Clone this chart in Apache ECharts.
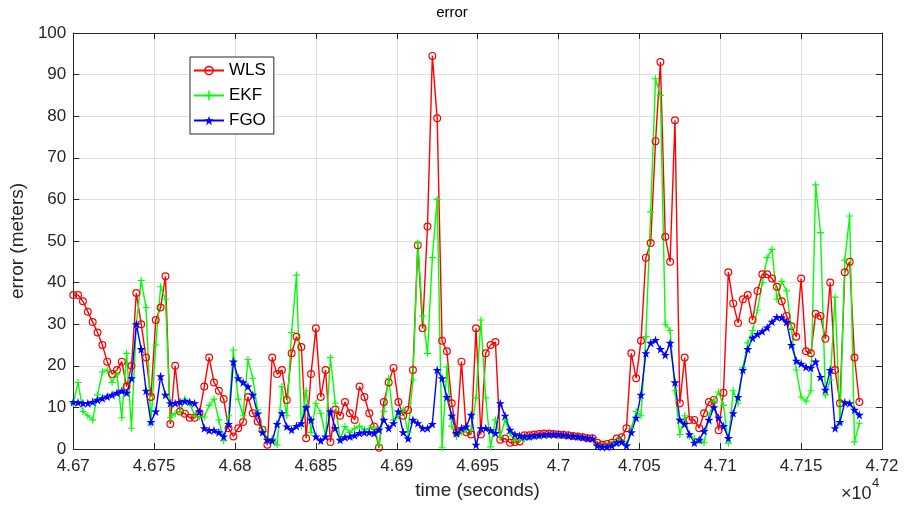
<!DOCTYPE html>
<html><head><meta charset="utf-8">
<script src="https://cdn.jsdelivr.net/npm/echarts@6/dist/echarts.min.js"></script>
<style>html,body{margin:0;padding:0;background:#fff}#c{width:904px;height:509px}</style>
</head><body><div id="c"></div><script>
// time stamps (seconds)
const time = [
46700,46703,46706,46709,46712,46715,46718,46721,46724,46727,
46730,46733,46736,46739,46742,46745,46748,46751,46754,46757,
46760,46763,46766,46769,46772,46775,46778,46781,46784,46787,
46790,46793,46796,46799,46802,46805,46808,46811,46814,46817,
46820,46823,46826,46829,46832,46835,46838,46841,46844,46847,
46850,46853,46856,46859,46862,46865,46868,46871,46874,46877,
46880,46883,46886,46889,46892,46895,46898,46901,46904,46907,
46910,46913,46916,46919,46922,46925,46928,46931,46934,46937,
46940,46943,46946,46949,46952,46955,46958,46961,46964,46967,
46970,46973,46976,46979,46982,46985,46988,46991,46994,46997,
47000,47003,47006,47009,47012,47015,47018,47021,47024,47027,
47030,47033,47036,47039,47042,47045,47048,47051,47054,47057,
47060,47063,47066,47069,47072,47075,47078,47081,47084,47087,
47090,47093,47096,47099,47102,47105,47108,47111,47114,47117,
47120,47123,47126,47129,47132,47135,47138,47141,47144,47147,
47150,47153,47156,47159,47162,47165,47168,47171,47174,47177,
47180,47183,47186];

const wls = [
37,37,35.5,33,30.5,28,25,21,18,19,
21,15,20,37.5,30,22,12.5,31,34,41.5,
6,20,9,8.5,7.5,7.5,8.6,15,22,16,
14,12,5,3,5,6.5,12.5,8.6,6.6,4.6,
1,22,18,19,11.8,23,27,24.5,2.6,18,
29,12.5,19,1.7,9.5,8,11.3,8.6,7,15,
12.5,8.6,5.4,0.3,11.3,16,19.5,11.3,8,9.4,
19,49,29,53.5,94.5,79.5,26,23.5,11,4,
21,4,3.5,29,3.5,23,25,25.7,2.2,2.5,
1.5,1.7,1.8,3.3,3.3,3.5,3.6,3.7,3.7,3.6,
3.5,3.4,3.3,3.1,3,2.8,2.6,2.6,1.5,1,
1.2,1.5,2.5,2.8,5,23,17,26,46,49.5,
74,93,51,45,79,11,22,7,7,5,
8.6,11.3,11.8,4.5,13.5,42.5,35,30.3,36,37,
31,38,42,42,41,39,35.5,32,29.5,27,
41,23.5,23,32.5,32,26.5,40,19,11,42.5,
45,22,11.3];

const ekf = [
11,16,9,8,7,13,18.5,19,16,18,
7.5,23,5,30,40.5,34,6,25,39,36,
7.5,8.5,9,12,11,8,7.7,7.7,10.5,12,
7,2,8,23.8,12,8,21.5,17,9.4,4.6,
2.5,2.5,1,15,8,28,41.8,5.5,14,4,
11,8.6,3,22,11,2.2,5.4,4,5,5.5,
4.6,5,5.3,1,9,17,7,8,9.4,4,
16.6,49.5,32,23,46,60,0.3,19.7,5.5,3,
4,4.5,4.5,12.3,31,12.3,0.5,7,3,7,
3.7,2,2.2,2.5,2.8,3,3.2,3.4,3.5,3.5,
3.5,3.4,3.2,3.1,3,2.8,2.6,2.5,1,0.8,
0.8,1.2,2,2.2,1,5,9,8,27,57,
89,85,30,28.5,14,3.5,8,3,2.5,2,
1.5,8,11.5,13.7,10.5,1.4,14,11,19.5,25.5,
28.5,33.4,40,46,48,36,40.3,38,29,19,
12.5,11.5,14,63.5,52,13,16.6,36.5,6.2,45.4,
56,1.7,6.2];

const fgo = [
11.3,11.2,11,11,11.3,11.8,12.2,12.6,13,13.5,
14,13.5,17,30,24,14,6.5,9,17.5,13,
11,11,11.3,11.5,11.3,11,9,5,4.5,4.5,
4,3,6,21,17,16,15,13,8.5,4,
2.2,2,6,8.6,5.4,4.6,5.5,6.2,10,7,
3,2,3,9,5,2.2,2.8,3,3.3,3.8,
4,4,3.8,4.6,7,5,6.2,9,4,2.5,
7,6.2,5,5,6,19,17,12.5,8,3.8,
5,5.4,8.2,1,5,5,4.5,3.8,11,8,
4.6,3.5,3.2,3,3,3.2,3.3,3.4,3.5,3.5,
3.5,3.4,3.2,3.1,3,2.8,2.6,2.5,0.8,0.5,
0.5,0.8,1.5,1.7,0.8,4,7.5,13,23,25.5,
26.2,24,22.6,25.5,16,7,6,3.5,1.5,2.2,
4.3,7,10,7.5,5.5,2.6,8.6,12.5,19,24,
26.7,27.6,28.3,29.2,30.6,31.7,31.6,30.5,25,21.2,
20.5,19.7,19.5,21,17.3,14.2,19,5,6.5,11.2,
11,9.4,8.2];

const seriesNames = ['WLS','EKF','FGO'];
const xMin = 46700, xMax = 47200, xStep = 50;
const yMin = 0, yMax = 100, yStep = 10;

const FONT = 'Arial, "Liberation Sans", Helvetica, sans-serif';
const AX = '#262626';
const GRIDC = '#e0e0e0';
const ring = 'path://M50,0A50,50 0 1,0 50,100A50,50 0 1,0 50,0ZM50,15A35,35 0 1,1 50,85A35,35 0 1,1 50,15Z';
const plus = 'path://M42,0H58V42H100V58H58V100H42V58H0V42H42Z';
const star = 'path://M50,0L61.8,36.2L100,36.2L69.1,58.6L80.9,95.1L50,72.7L19.1,95.1L30.9,58.6L0,36.2L38.2,36.2Z';

function pairs(vals){ return time.map((t,i)=>[t, vals[i]]); }
function mk(name, vals, color, symbol, size){
  return {type:'line', name, data:pairs(vals), symbol, symbolSize:size, showSymbol:true,
    lineStyle:{color, width:1.4}, itemStyle:{color}, emphasis:{disabled:true}, animation:false};
}

const chart = echarts.init(document.getElementById('c'), null, {renderer:'canvas'});
const tickLbl = {color:AX, fontSize:17, fontFamily:FONT};
chart.setOption({
  animation:false,
  backgroundColor:'#fff',
  grid:{left:68, right:22, top:33, bottom:60},
  xAxis:[
    {type:'value', min:xMin, max:xMax, interval:xStep, position:'bottom',
     axisLine:{show:true, onZero:false, lineStyle:{color:AX, width:1}},
     axisTick:{show:true, inside:true, length:6, lineStyle:{color:AX}},
     axisLabel:Object.assign({margin:9, formatter:v=>String(parseFloat((v/1e4).toFixed(4)))}, tickLbl),
     splitLine:{show:true, lineStyle:{color:GRIDC, width:1}},
     name:'time (seconds)', nameLocation:'middle', nameGap:32,
     nameTextStyle:{color:AX, fontSize:19, fontFamily:FONT}},
    {type:'value', min:xMin, max:xMax, interval:xStep, position:'top',
     axisLine:{show:true, onZero:false, lineStyle:{color:AX, width:1}},
     axisTick:{show:true, inside:true, length:6, lineStyle:{color:AX}},
     axisLabel:{show:false}, splitLine:{show:false}}
  ],
  yAxis:[
    {type:'value', min:yMin, max:yMax, interval:yStep, position:'left',
     axisLine:{show:true, onZero:false, lineStyle:{color:AX, width:1}},
     axisTick:{show:true, inside:true, length:6, lineStyle:{color:AX}},
     axisLabel:Object.assign({margin:7}, tickLbl),
     splitLine:{show:true, lineStyle:{color:GRIDC, width:1}},
     name:'error (meters)', nameLocation:'middle', nameGap:36,
     nameTextStyle:{color:AX, fontSize:19, fontFamily:FONT}},
    {type:'value', min:yMin, max:yMax, interval:yStep, position:'right',
     axisLine:{show:true, onZero:false, lineStyle:{color:AX, width:1}},
     axisTick:{show:true, inside:true, length:6, lineStyle:{color:AX}},
     axisLabel:{show:false}, splitLine:{show:false}}
  ],
  legend:{left:190, top:57, orient:'vertical', itemWidth:30, itemHeight:12, itemGap:8,
    padding:[5,8,5,3], backgroundColor:'#fff', borderColor:AX, borderWidth:1, borderRadius:0,
    textStyle:{color:'#000', fontSize:17, fontFamily:FONT, lineHeight:16},
    data:seriesNames},
  series:[
    mk(seriesNames[0], wls, '#ff0000', ring, 8),
    mk(seriesNames[1], ekf, '#00ff00', plus, 7),
    mk(seriesNames[2], fgo, '#0000ff', star, 9)
  ],
  graphic:[
    {type:'text', left:'center', top:5, style:{text:'error', fill:'#000', font:'15px '+FONT}, x:23},
    {type:'text', left:841, top:485, style:{text:'×10', fill:AX, font:'18px '+FONT}},
    {type:'text', left:872, top:477, style:{text:'4', fill:AX, font:'13px '+FONT}}
  ]
});
</script></body></html>
